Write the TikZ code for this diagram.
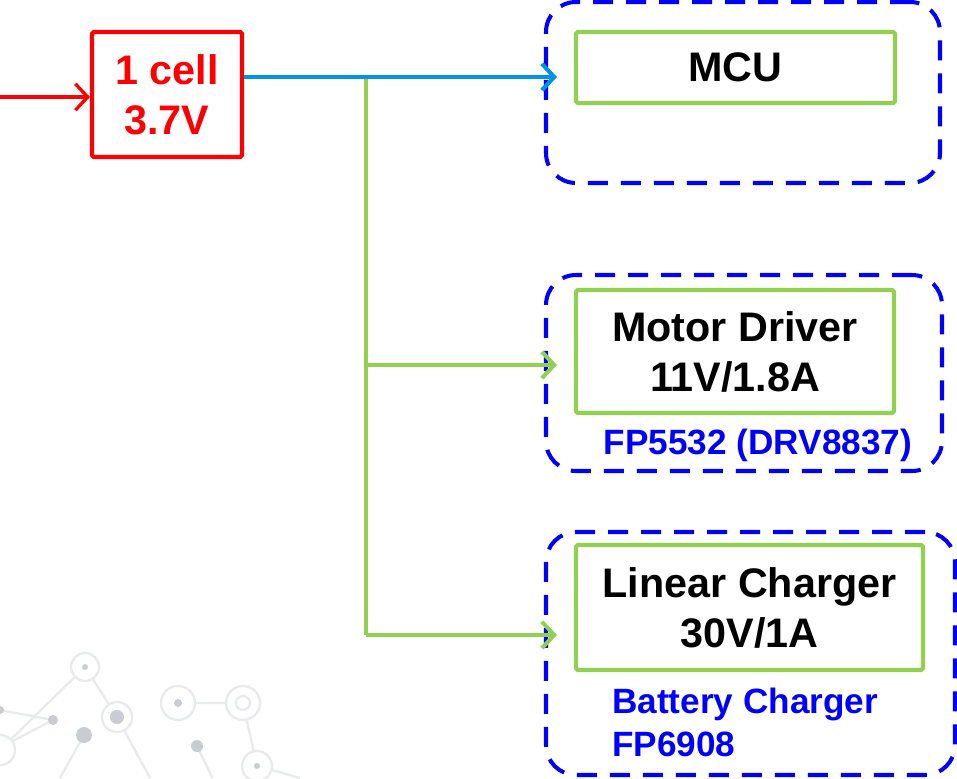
\documentclass[tikz,border=0pt]{standalone}
\usepackage{fontspec}
\setmainfont{Liberation Sans}
\usetikzlibrary{arrows.meta,positioning,calc}
\definecolor{cellred}{RGB}{255,0,0}
\definecolor{boxgreen}{RGB}{146,208,80}
\definecolor{grpblue}{RGB}{0,0,255}
\definecolor{busblue}{RGB}{0,146,230}
\definecolor{decoline}{RGB}{232,234,236}
\definecolor{decodot}{RGB}{200,205,210}
\tikzset{
  cellbox/.style={draw=cellred, line width=2.3pt, rounded corners=1pt, text=cellred,
                  font=\bfseries\fontsize{23.5}{28.5}\selectfont, align=center,
                  minimum width=3cm, minimum height=2.5cm},
  blockbox/.style={draw=boxgreen, line width=2.3pt, rounded corners=1pt,
                   font=\bfseries\fontsize{23.5}{28.5}\selectfont, align=center},
  grpbox/.style={draw=grpblue, line width=2.3pt, dash pattern=on 0.4cm off 0.26cm,
                 rounded corners=0.6cm},
  partlabel/.style={text=grpblue, font=\bfseries\fontsize{20}{24}\selectfont,
                    align=left, inner sep=0pt},
  feed/.style={line width=#1, -{Straight Barb[length=7pt, width=15pt, line width=#1]}},
  ring/.style={draw=decoline, line width=1.3pt, fill=white},
}
\begin{document}
\begin{tikzpicture}
\useasboundingbox (0,0) rectangle (19.14,-15.56);
% Background: faint network pattern
\begin{scope}[decoline, line width=1.3pt]
\draw (1.70,-13.34) -- (0,-15.0);
\draw (1.70,-13.34) -- (2.34,-14.34) -- (3.0,-15.56);
\draw (0,-14.2) -- (1.06,-14.40) -- (0,-14.95);
\draw (1.68,-14.70) -- (1.2,-15.56);
\draw (3.56,-14.06) -- (4.86,-14.06) -- (5.14,-15.32) -- (6.0,-15.56);
\draw (3.94,-14.92) -- (4.25,-15.56);
\draw[ring] (1.70,-13.34) circle (0.28);
\draw[ring] (2.34,-14.34) circle (0.30);
\draw[ring] (0,-15.0) circle (0.30);
\draw[ring] (3.56,-14.06) circle (0.34);
\draw[ring] (4.86,-14.06) circle (0.34);
\draw[ring] (4.86,-14.06) circle (0.14);
\draw[ring] (5.14,-15.32) circle (0.30);
\end{scope}
\fill[decodot] (1.70,-13.34) circle (0.06);
\fill[decodot] (2.34,-14.34) circle (0.14);
\fill[decodot] (1.06,-14.40) circle (0.10);
\fill[decodot] (1.68,-14.70) circle (0.16);
\fill[decodot] (0,-14.2) circle (0.08);
\fill[decodot] (3.56,-14.06) circle (0.08);
\fill[decodot] (3.94,-14.92) circle (0.12);
\fill[decodot] (5.14,-15.32) circle (0.06);
% Right: dashed groups
\node[grpbox, minimum width=7.88cm, minimum height=3.62cm] (mcugrp) at (14.86,-1.85) {};
\node[grpbox, minimum width=7.92cm, minimum height=3.92cm] (motorgrp) at (14.88,-7.46) {};
\node[grpbox, minimum width=8.18cm, minimum height=4.86cm] (chggrp) at (15.01,-13.07) {};
% Right: blocks
\node[blockbox, minimum width=6.38cm, minimum height=1.42cm] (mcu) at (14.71,-1.35) {MCU};
\node[blockbox, minimum width=6.36cm, minimum height=2.46cm] (motor) at (14.70,-7.03) {Motor Driver\\11V/1.8A};
\node[blockbox, minimum width=6.94cm, minimum height=2.5cm] (charger) at (14.99,-12.15) {Linear Charger\\30V/1A};
% Part numbers
\node[partlabel] (motorpart) at (15.16,-8.9) {FP5532 (DRV8837)};
\node[partlabel, anchor=west] (chgpart) at (12.24,-14.45) {Battery Charger\\FP6908};
% Left: the cell
\node[cellbox] (cell) at (3.34,-1.89) {1 cell\\3.7V};
\coordinate (in) at (0,-1.94);
\coordinate (tap) at (7.32,-1.54);
\coordinate (jm) at (7.32,-7.30);
\coordinate (jc) at (7.32,-12.70);
% Connectors
\draw[feed=1.9pt, cellred] (in) -- (in -| cell.west);
\draw[boxgreen, line width=2.3pt] (tap) -- (jc);
\draw[feed=2.3pt, busblue, shorten >=0.34cm] (cell.east |- tap) -- (mcu.west |- tap);
\draw[feed=2.3pt, boxgreen, shorten >=0.34cm] (jm) -- (jm -| motor.west);
\draw[feed=2.3pt, boxgreen, shorten >=0.34cm] (jc) -- (jc -| charger.west);
\end{tikzpicture}
\end{document}
